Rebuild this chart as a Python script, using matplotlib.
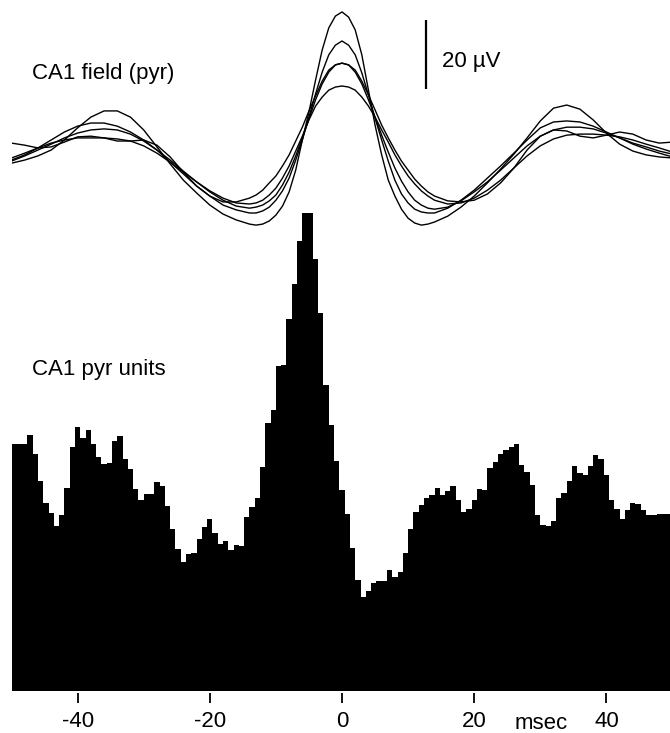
import numpy as np
import matplotlib
matplotlib.use("Agg")
import matplotlib.pyplot as plt

plt.rcParams['font.family'] = ['Liberation Sans', 'DejaVu Sans']

# ---------------- data ----------------
# Field traces (µV): every 2 ms on the flanks, every 1 ms from -14 to 14 ms
field_t = (list(range(-50, -15, 2)) + list(range(-14, 15)) + list(range(16, 51, 2)))
field_a = [-3.8, -2.9, -1.7, 0.0, 2.9, 6.4, 9.5, 11.3, 11.3, 9.5, 5.8, 0.9, -4.0, -8.7, -12.4, -15.9, -18.5, -20.2,
           -21.4, -21.7, -21.4, -20.5, -18.8, -16.2, -12.1, -5.8, 2.9, 11.0, 20.2, 28.9, 35.3, 38.7,
           39.9,
           38.4, 34.7, 27.5, 17.3, 7.2, -1.4, -8.7, -13.3, -17.1, -19.7, -21.1, -21.7, -21.4, -20.8,
           -19.1, -16.5, -13.3, -9.5, -5.5, -1.2, 3.5, 8.4, 12.1, 13.0, 11.8, 8.7, 4.9, 1.7, -0.3, -1.4, -2.0, -2.3]
field_b = [-2.9, -1.4, 0.6, 2.9, 5.2, 6.9, 7.8, 7.8, 6.9, 5.2, 2.9, 0.0, -3.5, -6.9, -10.4, -13.3, -15.9, -17.3,
           -18.2, -18.2, -17.6, -16.5, -14.5, -11.8, -8.1, -2.9, 2.9, 9.5, 16.2, 22.5, 27.5, 30.3,
           31.5,
           30.3, 27.5, 22.3, 15.9, 9.2, 2.9, -3.2, -8.7, -12.7, -15.3, -17.1, -17.9, -18.2, -18.2,
           -16.8, -14.5, -11.6, -8.1, -4.6, -0.9, 2.9, 6.4, 8.1, 8.4, 8.1, 6.9, 5.2, 3.5, 1.7, 0.3, -0.9, -2.0]
field_c = [-3.2, -1.7, 0.0, 1.7, 3.5, 4.9, 5.8, 6.1, 5.8, 4.6, 2.6, 0.0, -2.9, -6.1, -9.2, -12.1, -14.5, -16.2,
           -16.8, -16.5, -15.9, -14.7, -13.0, -10.1, -6.4, -1.7, 3.5, 9.0, 14.5, 19.1, 22.5, 24.6,
           25.1,
           24.6, 22.5, 19.1, 14.5, 9.5, 4.3, -0.6, -5.2, -9.0, -12.1, -14.5, -15.9, -16.8, -17.1,
           -16.5, -14.7, -12.1, -9.2, -5.8, -2.3, 1.2, 4.0, 5.8, 6.6, 6.6, 6.1, 4.9, 3.5, 2.0, 0.9, -0.3, -1.2]
field_d = [-2.3, -0.9, 0.6, 2.0, 2.9, 3.5, 3.5, 3.5, 3.2, 2.6, 1.2, -0.9, -3.5, -6.4, -9.2, -11.8, -13.9, -15.3,
           -15.6, -15.3, -14.5, -13.0, -11.0, -8.1, -4.6, -0.3, 4.0, 8.7, 12.7, 15.3, 17.3, 18.2,
           18.5,
           18.2, 17.3, 15.3, 12.7, 9.5, 5.8, 2.3, -1.4, -4.6, -7.5, -9.8, -11.8, -13.3, -14.5,
           -15.6, -15.3, -13.9, -11.6, -8.7, -5.2, -1.7, 1.2, 3.2, 4.3, 4.6, 4.6, 4.3, 3.8, 2.9, 1.7, 0.6, -0.6]
field_e = [2.0, 1.4, 0.6, 0.9, 2.3, 3.8, 4.0, 3.5, 2.6, 2.6, 2.9, 1.4, -2.0, -6.4, -10.4, -13.3, -15.0, -15.0,
           -13.9, -13.0, -11.6, -9.5, -7.5, -4.6, -1.4, 2.6, 6.6, 11.3, 15.6, 19.9, 23.1, 24.6,
           25.1,
           24.6, 23.1, 19.9, 15.9, 11.6, 7.2, 3.5, 0.0, -3.2, -5.8, -8.4, -10.4, -12.1, -13.3,
           -14.7, -15.0, -14.5, -12.7, -9.5, -5.2, 0.0, 4.0, 5.8, 5.5, 4.0, 3.5, 4.3, 5.2, 4.6, 2.9, 2.0, 2.3]
field_traces = [field_a, field_b, field_c, field_d, field_e]

# Unit histogram: 0.8 ms bins, centred on 0 (bin index -62 .. 62), arbitrary count units
bin_width = 0.8
unit_counts = [247, 247, 247, 256, 237, 210, 188, 178, 165, 176, 203, 244, 264, 253, 261,
               247, 234, 227, 228, 250, 255, 232, 222, 202, 191, 197, 197, 209, 205, 185,
               162, 142, 129, 137, 138, 152, 164, 172, 158, 147, 150, 141, 146, 145, 174,
               184, 193, 224, 268, 281, 325, 326, 372, 407, 450, 478, 478, 432, 378, 306,
               266, 230, 201, 177, 143, 111, 94, 100, 108, 110, 110, 121, 114, 119, 138,
               162, 179, 186, 193, 196, 203, 196, 200, 205, 191, 179, 182, 191, 202, 201,
               223, 229, 237, 241, 244, 247, 226, 219, 206, 176, 166, 165, 170, 193, 198,
               210, 225, 218, 216, 225, 236, 232, 216, 191, 182, 172, 181, 188, 187, 181,
               176, 176, 177, 177, 177]

tick_vals = [-40, -20, 0, 20, 40]
tick_labels = ['-40', '-20', '0', '20', '40']

# ---------------- figure ----------------
W, H = 670, 733
fig = plt.figure(figsize=(W / 100, H / 100), dpi=100)

left = 11.5 / W
width = 661.0 / W

# bottom: unit histogram (created first so the field axes draws over it)
ax_h = fig.add_axes([left, (H - 693) / H, width, (693 - 200) / H])
ax_h.patch.set_visible(False)
edges = -50 + bin_width * np.arange(len(unit_counts) + 1)
ax_h.stairs(unit_counts, edges, fill=True, color='black', linewidth=0)
ax_h.set_xlim(-50, 50)
ax_h.set_ylim(-2.3, 490.7)
for s in ax_h.spines.values():
    s.set_visible(False)
ax_h.set_yticks([])
ax_h.set_xticks(tick_vals)
ax_h.set_xticklabels(tick_labels)
ax_h.tick_params(axis='x', direction='out', length=7.2, width=1.3, pad=6, labelsize=16)
ax_h.text(-46.9, 315.7, 'CA1 pyr units', fontsize=16, ha='left', va='baseline')
fig.text(515 / W, 1 - 729 / H, 'msec', fontsize=16, ha='left', va='baseline')

# top: field traces
ax_f = fig.add_axes([left, (H - 240) / H, width, 240 / H])
ax_f.patch.set_visible(False)
for tr in field_traces:
    ax_f.plot(field_t, tr, color='black', lw=1.0, solid_joinstyle='round')
ax_f.set_xlim(-50, 50)
ax_f.set_ylim(-26.0, 43.35)
ax_f.axis('off')
# scale bar 20 µV
ax_f.plot([12.7, 12.7], [17.6, 37.6], color='black', lw=1.6, solid_capstyle='butt')
ax_f.text(15.1, 24.0, '20 \u00b5V', fontsize=16, ha='left', va='baseline')
ax_f.text(-46.9, 20.5, 'CA1 field (pyr)', fontsize=16, ha='left', va='baseline')

fig.savefig('out.png', dpi=100)
